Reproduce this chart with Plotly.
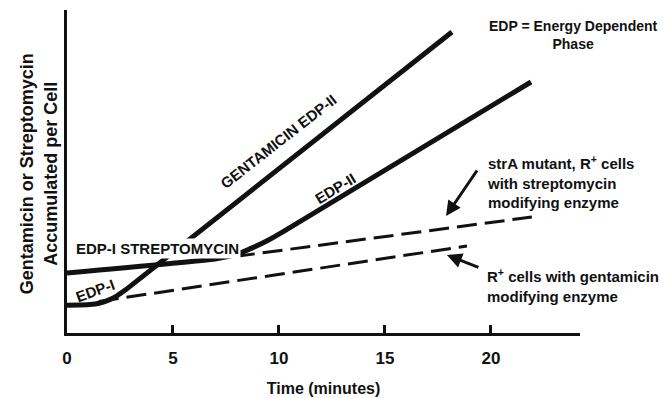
import plotly.graph_objects as go

# Data (time in minutes, accumulation in arbitrary units)
strep_x = [0, 6.98, 7.53, 8.13, 8.79, 9.51, 10.28, 21.89]
strep_y = [6.0, 7.41, 7.61, 7.97, 8.56, 9.30, 10.24, 25.1]

gent_x = [0, 1.08, 1.51, 1.93, 2.36, 2.78, 18.16]
gent_y = [2.78, 2.85, 2.97, 3.26, 3.72, 4.34, 30.1]

dash_strep_x = [7.92, 21.93]
dash_strep_y = [7.65, 11.6]

dash_gent_x = [1.5, 18.87]
dash_gent_y = [3.15, 8.7]

x_ticks = [0, 5, 10, 15, 20]

FONT = "Liberation Sans"
BLACK = "#111111"

fig = go.Figure()
fig.add_trace(go.Scatter(x=dash_strep_x, y=dash_strep_y, mode="lines",
                         line=dict(color=BLACK, width=3, dash="20px,8px")))
fig.add_trace(go.Scatter(x=dash_gent_x, y=dash_gent_y, mode="lines",
                         line=dict(color=BLACK, width=3, dash="20px,8px")))
fig.add_trace(go.Scatter(x=strep_x, y=strep_y, mode="lines",
                         line=dict(color=BLACK, width=5, shape="spline", smoothing=0.5)))
fig.add_trace(go.Scatter(x=gent_x, y=gent_y, mode="lines",
                         line=dict(color=BLACK, width=5, shape="spline", smoothing=0.5)))

def bold(s):
    return f"<b>{s}</b>"

def tf(size):
    return dict(size=size, family=FONT, color=BLACK)

ann = []
ann.append(dict(x=23.87, y=29.8, text=bold("EDP = Energy Dependent<br>Phase"),
                font=tf(14), showarrow=False, align="center"))
ann.append(dict(x=9.95, y=19.2, text=bold("GENTAMICIN EDP-II"), textangle=-38,
                font=tf(15), showarrow=False))
ann.append(dict(x=12.64, y=14.5, text=bold("EDP-II"), textangle=-31,
                font=tf(15), showarrow=False))
ann.append(dict(x=4.25, y=8.5, text=bold("EDP-I STREPTOMYCIN"), bgcolor="white", borderpad=1,
                font=tf(15), showarrow=False))
ann.append(dict(x=1.32, y=4.3, text=bold("EDP-I"), textangle=-20,
                font=tf(15), showarrow=False))
ann.append(dict(x=19.72, y=15.1, xanchor="left", align="left",
                text=bold("strA mutant, R<sup>+</sup> cells<br>with streptomycin<br>modifying enzyme"),
                font=tf(15), showarrow=False))
ann.append(dict(x=19.72, y=4.8, xanchor="left", align="left",
                text=bold("R<sup>+</sup> cells with gentamicin<br>modifying enzyme"),
                font=tf(15), showarrow=False))
# arrows
ann.append(dict(x=17.88, y=11.7, ax=19.39, ay=16.4, axref="x", ayref="y", text="",
                showarrow=True, arrowhead=2, arrowwidth=3, arrowsize=1, arrowcolor=BLACK))
ann.append(dict(x=17.92, y=7.8, ax=19.48, ay=6.5, axref="x", ayref="y", text="",
                showarrow=True, arrowhead=2, arrowwidth=3, arrowsize=1, arrowcolor=BLACK))
# y title
ann.append(dict(xref="paper", yref="paper", x=-0.056, y=0.492, xanchor="center", yanchor="middle",
                textangle=-90,
                text=bold("Gentamicin or Streptomycin<br>Accumulated per Cell"),
                font=tf(18), showarrow=False, align="center"))

fig.update_layout(
    width=663, height=398,
    margin=dict(l=67, r=83, t=10, b=65),
    paper_bgcolor="white", plot_bgcolor="white",
    showlegend=False,
    annotations=ann,
    xaxis=dict(range=[0, 24.2], showgrid=False, zeroline=False, automargin=False,
               showline=True, linecolor=BLACK, linewidth=3,
               tickvals=x_ticks, ticktext=[bold(v) for v in x_ticks],
               ticks="inside", ticklen=8, tickwidth=3, tickcolor=BLACK,
               ticklabelstandoff=8,
               tickfont=tf(17),
               title=dict(text=bold("Time (minutes)"), font=tf(16), standoff=16)),
    yaxis=dict(range=[0, 32.3], showgrid=False, zeroline=False, automargin=False,
               showline=True, linecolor=BLACK, linewidth=3,
               showticklabels=False, ticks=""),
)

fig.write_html("out.html", config={"displayModeBar": False},
               post_script="document.body.style.margin='0px';")
